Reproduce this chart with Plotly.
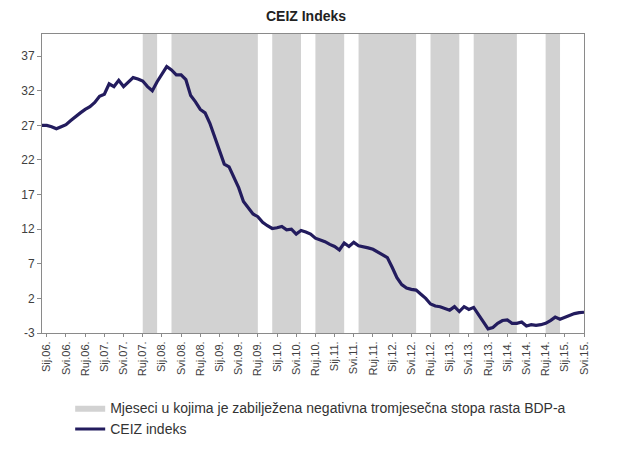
import plotly.graph_objects as go

# Month index: 0 = Jan 2006 (Sij.06.), -1 = Dec 2005, 112 = May 2015
first_month = -1
ceiz_values = [
    27.0, 27.0, 26.8, 26.5, 26.8, 27.1, 27.7, 28.3, 28.8, 29.3,   # -1..8
    29.7, 30.3, 31.2, 31.5, 33.0, 32.6, 33.5, 32.6, 33.2, 33.9,   # 9..18
    33.7, 33.4, 32.6, 32.0, 33.3, 34.5, 35.5, 35.0, 34.3, 34.3,   # 19..28
    33.6, 31.3, 30.4, 29.3, 28.8, 27.3, 25.3, 23.3, 21.4, 21.0,   # 29..38
    19.5, 18.0, 16.0, 15.0, 14.2, 13.8, 13.0, 12.5, 12.1, 12.2,   # 39..48
    12.4, 11.9, 12.0, 11.3, 11.8, 11.6, 11.3, 10.7, 10.5, 10.2,   # 49..58
    9.8, 9.5, 9.0, 10.0, 9.5, 10.1, 9.6, 9.5, 9.3, 9.1,           # 59..68
    8.7, 8.2, 7.9, 6.5, 5.0, 4.0, 3.5, 3.3, 3.2, 2.6,             # 69..78
    2.0, 1.2, 0.9, 0.8, 0.5, 0.3, 0.8, 0.1, 0.8, 0.4,             # 79..88
    0.7, -0.4, -1.5, -2.4, -2.2, -1.6, -1.2, -1.1, -1.6, -1.6,    # 89..98
    -1.4, -2.0, -1.8, -1.9, -1.8, -1.6, -1.2, -0.7, -1.0, -0.7,   # 99..108
    -0.4, -0.2, -0.05, 0.0,                                       # 109..112
]
months = list(range(first_month, first_month + len(ceiz_values)))

# Periods with negative quarterly GDP growth (month index boundaries)
band_start = [20, 26, 47, 56, 65, 80, 89, 104]
band_end = [23, 44, 53, 62, 77, 86, 98, 107]

tick_months = list(range(0, 113, 4))
tick_labels = [
    "Sij.06.", "Svi.06.", "Ruj.06.", "Sij.07.", "Svi.07.", "Ruj.07.",
    "Sij.08.", "Svi.08.", "Ruj.08.", "Sij.09.", "Svi.09.", "Ruj.09.",
    "Sij.10.", "Svi.10.", "Ruj.10.", "Sij.11.", "Svi.11.", "Ruj.11.",
    "Sij.12.", "Svi.12.", "Ruj.12.", "Sij.13.", "Svi.13.", "Ruj.13.",
    "Sij.14.", "Svi.14.", "Ruj.14.", "Sij.15.", "Svi.15.",
]
y_ticks = [-3, 2, 7, 12, 17, 22, 27, 32, 37]
y_tick_labels = ["-3", "2", "7", "12", "17", "22", "27", "32", "37"]
y_min, y_max = -3, 40.2

band_x, band_y = [], []
for s, e in zip(band_start, band_end):
    band_x += [s, e, e, s, s, None]
    band_y += [y_min, y_min, y_max, y_max, y_min, None]

fig = go.Figure()
fig.add_trace(go.Scatter(
    x=band_x, y=band_y, mode="lines", fill="toself",
    fillcolor="#d2d2d2", line=dict(width=0, color="#d2d2d2"),
    name="Mjeseci u kojima je zabilježena negativna tromjesečna stopa rasta BDP-a",
    hoverinfo="skip",
))
fig.add_trace(go.Scatter(
    x=months, y=ceiz_values, mode="lines",
    line=dict(color="#231c5e", width=3.2),
    name="CEIZ indeks",
))

# page body has an 8px margin, so the figure is 617x441 and offsets are shifted
fig.update_layout(
    width=617, height=441,
    margin=dict(l=34, r=41, t=26, b=116, autoexpand=False),
    paper_bgcolor="white", plot_bgcolor="white",
    title=dict(text="<b>CEIZ Indeks</b>", x=0.483, xanchor="center",
               yref="container", y=1.0, yanchor="top", pad=dict(t=3),
               font=dict(family="Liberation Sans Narrow, Arial Narrow, Liberation Sans, sans-serif",
                         size=14, color="#222222")),
    font=dict(family="Liberation Sans, Arial, sans-serif", color="#404040"),
    showlegend=True,
    legend=dict(x=0.052, y=-0.198, xanchor="left", yanchor="top",
                font=dict(size=14, color="#333333"), itemwidth=30,
                tracegroupgap=0, bgcolor="rgba(0,0,0,0)"),
)
fig.update_xaxes(
    range=[first_month, 112], tickmode="array", tickvals=tick_months, ticktext=tick_labels,
    tickangle=-90, tickfont=dict(size=11, color="#404040"), automargin=False,
    showgrid=False, zeroline=False, showline=True, linecolor="#8a8a8a", linewidth=1,
    mirror=True, ticks="outside", ticklen=3, tickcolor="#8a8a8a",
)
fig.update_yaxes(
    range=[y_min, y_max], tickmode="array", tickvals=y_ticks, ticktext=y_tick_labels,
    tickfont=dict(size=12, color="#404040"), automargin=False,
    showgrid=False, zeroline=False, showline=True, linecolor="#8a8a8a", linewidth=1,
    mirror=True, ticks="outside", ticklen=4, tickcolor="#8a8a8a",
)

fig.write_html("out.html")
